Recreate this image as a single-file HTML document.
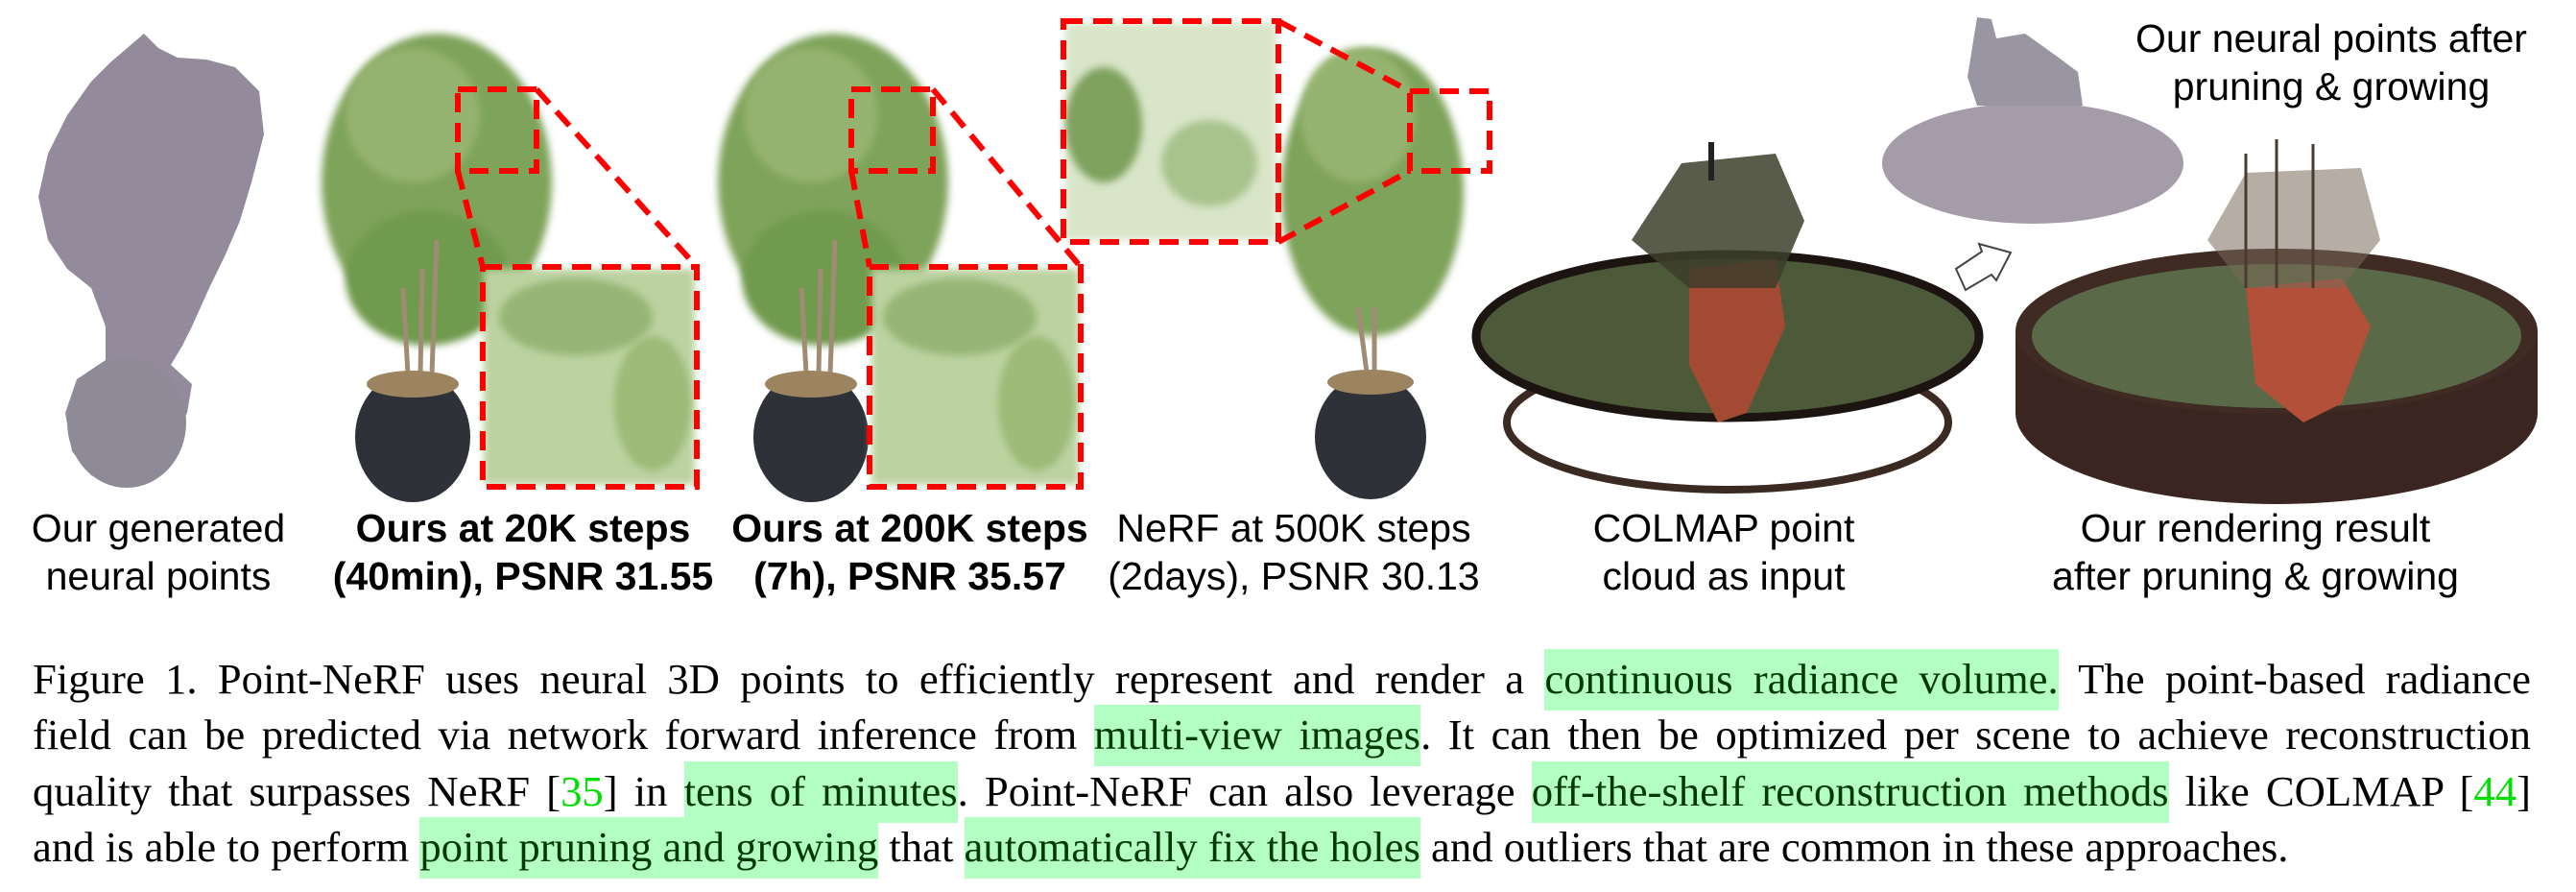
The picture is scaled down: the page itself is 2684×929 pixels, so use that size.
<!DOCTYPE html>
<html><head><meta charset="utf-8">
<style>
html,body{margin:0;padding:0;background:#fff;}
body{width:2684px;height:929px;position:relative;overflow:hidden;}
svg{position:absolute;left:0;top:0;}
.lab{position:absolute;font-family:"Liberation Sans",Arial,sans-serif;font-size:41px;line-height:50px;text-align:center;color:#000;white-space:nowrap;transform:translateX(-50%);}
.b{font-weight:bold;}
.cap{position:absolute;left:34px;width:2603px;font-family:"Liberation Serif","Times New Roman",serif;font-size:44.7px;color:#000;white-space:nowrap;}
.j{text-align:justify;text-align-last:justify;}
.h{background:#b3ffc3;color:#003a00;padding:6px 0 8px 0;}
.g{color:#00e000;}
</style></head><body>
<svg width="2684" height="929" viewBox="0 0 2684 929">
<defs>
<filter id="bl"><feGaussianBlur stdDeviation="4"/></filter>
</defs>
<g fill="#938b9c">
<path d="M150 35 L165 50 L185 60 L215 62 L245 70 L270 95 L275 140 L262 190 L250 230 L235 265 L218 300 L200 340 L190 360 L178 380 L200 400 L195 430 L170 470 L150 500 L120 505 L95 495 L75 470 L68 430 L80 395 L110 375 L110 340 L95 300 L70 280 L50 250 L40 205 L50 160 L70 120 L95 85 L115 65 Z"/>
</g>
<ellipse cx="132" cy="440" rx="62" ry="68" fill="#8f8a98"/>
<g>
<ellipse cx="455" cy="190" rx="120" ry="155" fill="#7ea35a" filter="url(#bl)"/>
<ellipse cx="430" cy="120" rx="70" ry="70" fill="#95b370" filter="url(#bl)"/>
<ellipse cx="445" cy="290" rx="85" ry="70" fill="#6f9a4d" filter="url(#bl)"/>
<path d="M420 300 L425 390 M440 280 L438 390 M455 250 L450 390" stroke="#a08b75" stroke-width="5"/>
<ellipse cx="430" cy="455" rx="60" ry="68" fill="#2e3238"/>
<ellipse cx="430" cy="400" rx="48" ry="14" fill="#9c8460"/>
</g>
<g>
<ellipse cx="868" cy="190" rx="120" ry="155" fill="#7ea35a" filter="url(#bl)"/>
<ellipse cx="845" cy="120" rx="70" ry="70" fill="#95b370" filter="url(#bl)"/>
<ellipse cx="858" cy="290" rx="85" ry="70" fill="#6f9a4d" filter="url(#bl)"/>
<path d="M835 300 L840 390 M855 280 L853 390 M870 250 L865 390" stroke="#a08b75" stroke-width="5"/>
<ellipse cx="845" cy="455" rx="60" ry="68" fill="#2e3238"/>
<ellipse cx="845" cy="400" rx="48" ry="14" fill="#9c8460"/>
</g>
<g>
<ellipse cx="1430" cy="200" rx="95" ry="150" fill="#7ea35a" filter="url(#bl)"/>
<ellipse cx="1415" cy="120" rx="60" ry="70" fill="#95b370" filter="url(#bl)"/>
<path d="M1415 320 L1425 395 M1432 320 L1432 395" stroke="#a08b75" stroke-width="5"/>
<ellipse cx="1428" cy="455" rx="58" ry="65" fill="#2e3238"/>
<ellipse cx="1428" cy="398" rx="45" ry="13" fill="#9c8460"/>
</g>
<rect x="504" y="280" width="220" height="225" fill="#bcd2a0" filter="url(#bl)"/>
<ellipse cx="600" cy="330" rx="80" ry="40" fill="#96b574" filter="url(#bl)"/>
<ellipse cx="680" cy="420" rx="40" ry="70" fill="#9dba78" filter="url(#bl)"/>
<rect x="908" y="280" width="216" height="225" fill="#bcd2a0" filter="url(#bl)"/>
<ellipse cx="1000" cy="330" rx="80" ry="40" fill="#96b574" filter="url(#bl)"/>
<ellipse cx="1080" cy="420" rx="40" ry="70" fill="#9dba78" filter="url(#bl)"/>
<rect x="1110" y="24" width="220" height="226" fill="#d8e5c8" filter="url(#bl)"/>
<ellipse cx="1150" cy="130" rx="40" ry="60" fill="#7fa25e" filter="url(#bl)"/>
<ellipse cx="1260" cy="170" rx="50" ry="45" fill="#a9c38d" filter="url(#bl)"/>
<g fill="none" stroke="#ff0000" stroke-width="6" stroke-dasharray="20 11">
<rect x="477" y="93" width="82" height="85"/>
<rect x="503" y="278" width="223" height="229"/>
<line x1="477" y1="178" x2="503" y2="278"/>
<line x1="559" y1="93" x2="726" y2="278"/>
<rect x="887" y="93" width="85" height="85"/>
<rect x="906" y="278" width="220" height="229"/>
<line x1="887" y1="178" x2="906" y2="278"/>
<line x1="972" y1="93" x2="1126" y2="278"/>
<rect x="1108" y="22" width="224" height="230"/>
<rect x="1469" y="95" width="83" height="83"/>
<line x1="1332" y1="22" x2="1469" y2="95"/>
<line x1="1332" y1="252" x2="1469" y2="178"/>
</g>
<ellipse cx="1800" cy="440" rx="230" ry="70" fill="none" stroke="#3a2a22" stroke-width="8"/>
<ellipse cx="1800" cy="350" rx="262" ry="85" fill="#4d5a3a"/>
<ellipse cx="1800" cy="350" rx="262" ry="85" fill="none" stroke="#1b1410" stroke-width="9"/>
<path d="M1760 280 L1850 270 L1860 340 L1820 430 L1790 440 L1760 380 Z" fill="#a54a32"/>
<path d="M1752 170 L1850 160 L1880 230 L1850 300 L1760 300 L1700 250 Z" fill="#3c3e2c" opacity="0.85"/>
<rect x="1780" y="148" width="6" height="40" fill="#222"/>
<path d="M2038 280 L2065 262 L2062 254 L2095 263 L2080 292 L2075 286 L2048 302 Z" fill="#fff" stroke="#444" stroke-width="2"/>
<ellipse cx="2118" cy="170" rx="157" ry="63" fill="#a49ca8"/>
<path d="M2060 18 L2075 20 L2080 40 L2110 35 L2145 60 L2165 75 L2170 110 L2060 110 L2050 80 Z" fill="#9a95a2"/>
<path d="M2100 345 L2100 430 A272 95 0 0 0 2644 430 L2644 345 Z" fill="#3b2520"/>
<ellipse cx="2372" cy="345" rx="272" ry="86" fill="#3f2a24"/>
<ellipse cx="2372" cy="350" rx="255" ry="75" fill="#5a6a48"/>
<path d="M2340 300 L2440 290 L2470 340 L2440 420 L2400 440 L2350 400 Z" fill="#b2503a"/>
<path d="M2340 180 L2460 175 L2480 250 L2440 300 L2340 300 L2300 250 Z" fill="#7a6a5a" opacity="0.55"/>
<path d="M2372 145 L2372 300 M2340 160 L2340 300 M2410 150 L2410 300" stroke="#4a3a30" stroke-width="3"/>
</svg>

<div class="lab" style="left:165px;top:525px">Our generated<br>neural points</div>
<div class="lab b" style="left:545px;top:525px">Ours at 20K steps<br>(40min), PSNR 31.55</div>
<div class="lab b" style="left:948px;top:525px">Ours at 200K steps<br>(7h), PSNR 35.57</div>
<div class="lab" style="left:1348px;top:525px">NeRF at 500K steps<br>(2days), PSNR 30.13</div>
<div class="lab" style="left:1796px;top:525px">COLMAP point<br>cloud as input</div>
<div class="lab" style="left:2350px;top:525px">Our rendering result<br>after pruning &amp; growing</div>
<div class="lab" style="left:2429px;top:15px">Our neural points after<br>pruning &amp; growing</div>

<div class="cap j" style="top:681px">Figure 1. Point-NeRF uses neural 3D points to efficiently represent and render a <span class="h">continuous radiance volume.</span> The point-based radiance</div>
<div class="cap j" style="top:739px">field can be predicted via network forward inference from <span class="h">multi-view images</span>. It can then be optimized per scene to achieve reconstruction</div>
<div class="cap j" style="top:798px">quality that surpasses NeRF [<span class="g">35</span>] in <span class="h">tens of minutes</span>. Point-NeRF can also leverage <span class="h">off-the-shelf reconstruction methods</span> like COLMAP [<span class="g">44</span>]</div>
<div class="cap" style="top:856px">and is able to perform <span class="h">point pruning and growing</span> that <span class="h">automatically fix the holes</span> and outliers that are common in these approaches.</div>
</body></html>
